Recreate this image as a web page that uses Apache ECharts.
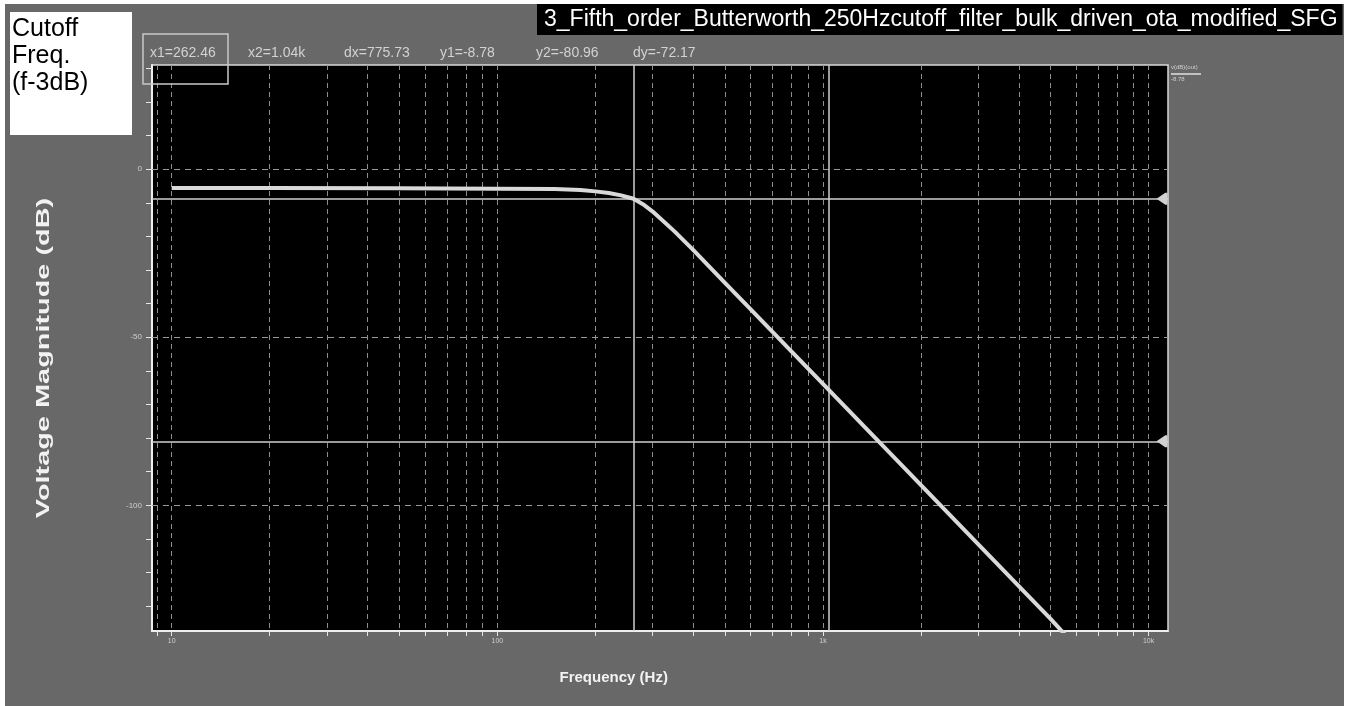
<!DOCTYPE html>
<html><head><meta charset="utf-8">
<script src="https://cdn.jsdelivr.net/npm/echarts@6/dist/echarts.min.js"></script>
<style>
html,body{margin:0;padding:0;background:#fff;width:1352px;height:706px;overflow:hidden}
#chart{position:absolute;left:5px;top:4px;width:1339px;height:702px;}
</style></head><body><div id="chart"></div>
<script>
// ---- data ----
const chartTitle = '3_Fifth_order_Butterworth_250Hzcutoff_filter_bulk_driven_ota_modified_SFG';
const noteLines = ['Cutoff', 'Freq.', '(f-3dB)'];
const xAxisTitle = 'Frequency (Hz)';
const yAxisTitle = 'Voltage Magnitude (dB)';
const traceName = 'v(dB)(out)';
const traceValueText = '-8.78';

const freqHz = [10, 20, 50, 100, 150, 180, 200, 220, 240, 262, 280, 300, 350, 400, 500, 600, 700, 800, 1000, 1500, 2000, 3000, 4000, 5000, 5600];
const magDb  = [-5.6, -5.6, -5.7, -5.8, -5.9, -6.2, -6.6, -7.1, -7.8, -8.8, -10.4, -12.6, -18.5, -24.1, -33.8, -41.7, -48.4, -54.2, -63.9, -81.5, -94.0, -111.6, -124.1, -133.8, -139.0];

const xTickValues = [9, 10, 20, 30, 40, 50, 60, 70, 80, 90, 100, 200, 300, 400, 500, 600, 700, 800, 900, 1000, 2000, 3000, 4000, 5000, 6000, 7000, 8000, 9000, 10000];
const xLabelValues = [10, 100, 1000, 10000];
const xLabelTexts = ['10', '100', '1k', '10k'];
const yTickValues = [30, 20, 10, 0, -10, -20, -30, -40, -50, -60, -70, -80, -90, -100, -110, -120, -130];
const yLabelValues = [0, -50, -100];
const yGridValues = [0, -50, -100];
const xRange = [8.7, 11470];
const yRange = [-137.4, 31.0];

const cursorX = [262.46, 1040];
const cursorY = [-8.78, -80.96];
const readoutTexts = ['x1=262.46', 'x2=1.04k', 'dx=775.73', 'y1=-8.78', 'y2=-80.96', 'dy=-72.17'];

// ---- layout (pixels, relative to the chart div) ----
const readoutX = [145, 243, 339, 435, 531, 628];
const readoutY = 49;
const FONT = 'Liberation Sans, Arial, sans-serif';

const chart = echarts.init(document.getElementById('chart'), null, {renderer: 'canvas'});

const gridMarks = yGridValues.map(v => ({yAxis: v, lineStyle: {type: [6, 5], color: '#9a9a9a', width: 1}}));
const cursorMarks = cursorX.map(v => ({xAxis: v, lineStyle: {type: 'solid', color: '#cfcfcf', width: 1.5}}))
  .concat(cursorY.map(v => ({yAxis: v, lineStyle: {type: 'solid', color: '#cfcfcf', width: 1.5}})));
const flag = 'path://M0,5 L8,0 L8,10 Z M8,0 L10,0 L10,10 L8,10 Z';

const graphics = [
  {type: 'rect', shape: {x: 5, y: 8, width: 122, height: 123}, style: {fill: '#ffffff'}, z: 50},
  {type: 'text', x: 7, y: 12, z: 51, style: {text: noteLines.join('\n'), font: '25px ' + FONT, lineHeight: 27, fill: '#000'}},
  {type: 'rect', shape: {x: 138, y: 30, width: 85, height: 50}, style: {fill: 'none', stroke: '#c8c8c8', lineWidth: 1.5}, z: 100},
  {type: 'text', x: 38.5, y: 354, rotation: Math.PI / 2, scaleX: 1.52, z: 51,
    style: {text: yAxisTitle, font: 'bold 19px ' + FONT, fill: '#f2f2f2', align: 'center', verticalAlign: 'middle'}},
  {type: 'text', x: 608.7, y: 673.5, z: 51,
    style: {text: xAxisTitle, font: 'bold 15px ' + FONT, fill: '#f2f2f2', align: 'center', verticalAlign: 'middle'}},
  {type: 'text', x: 1166, y: 60, z: 51, style: {text: traceName, font: '6px ' + FONT, fill: '#d0d0d0'}},
  {type: 'line', shape: {x1: 1166, y1: 70, x2: 1196, y2: 70}, style: {stroke: '#e0e0e0', lineWidth: 1.5}, z: 51},
  {type: 'text', x: 1166, y: 72, z: 51, style: {text: traceValueText, font: '6px ' + FONT, fill: '#d0d0d0'}}
].concat(readoutTexts.map((t, i) => ({
  type: 'text', x: readoutX[i], y: readoutY, z: 51,
  style: {text: t, font: '14px ' + FONT, fill: '#d2d2d2', verticalAlign: 'middle'}
})));

chart.setOption({
  animation: false,
  backgroundColor: '#686868',
  title: {
    text: chartTitle, left: 532, top: 0, backgroundColor: '#000', padding: [4, 5, 4, 7],
    textStyle: {color: '#fff', fontSize: 23, fontWeight: 'normal', fontFamily: FONT}
  },
  grid: {left: 147, top: 61, width: 1016, height: 566, show: true, backgroundColor: '#000', borderColor: '#d8d8d8', borderWidth: 1.5, containLabel: false},
  xAxis: {
    type: 'log', logBase: 10, min: xRange[0], max: xRange[1],
    axisLine: {show: true, onZero: false, lineStyle: {color: '#eeeeee', width: 2}},
    axisTick: {show: true, customValues: xTickValues, length: 5, lineStyle: {color: '#e6e6e6', width: 1}},
    axisLabel: {show: true, customValues: xLabelValues, fontSize: 7, color: '#cfcfcf', margin: 7, fontFamily: FONT,
      formatter: v => { const i = xLabelValues.findIndex(x => Math.abs(x - v) < 1e-6 * x); return i >= 0 ? xLabelTexts[i] : ''; }},
    splitLine: {show: true, lineStyle: {color: '#8e8e8e', type: [5, 4], width: 1}},
    minorTick: {show: false}
  },
  yAxis: {
    type: 'value', min: yRange[0], max: yRange[1],
    axisLine: {show: true, onZero: false, lineStyle: {color: '#eeeeee', width: 2}},
    axisTick: {show: true, customValues: yTickValues, length: 6, lineStyle: {color: '#e6e6e6', width: 1}},
    axisLabel: {show: true, customValues: yLabelValues, fontSize: 8, color: '#cfcfcf', margin: 10, fontFamily: FONT},
    splitLine: {show: false}
  },
  series: [{
    type: 'line', data: freqHz.map((f, i) => [f, magDb[i]]), showSymbol: false, symbol: 'none',
    clip: true, lineStyle: {color: '#d9d9d9', width: 4}, z: 5,
    markLine: {silent: true, symbol: ['none', 'none'], label: {show: false}, precision: 4, animation: false,
      data: gridMarks.concat(cursorMarks)},
    markPoint: {silent: true, symbol: flag, symbolSize: [11, 12], symbolOffset: [-6, 0], label: {show: false},
      itemStyle: {color: '#d0d0d0'}, animation: false,
      data: cursorY.map(v => ({coord: [xRange[1], v]}))}
  }],
  graphic: graphics
});
</script></body></html>
